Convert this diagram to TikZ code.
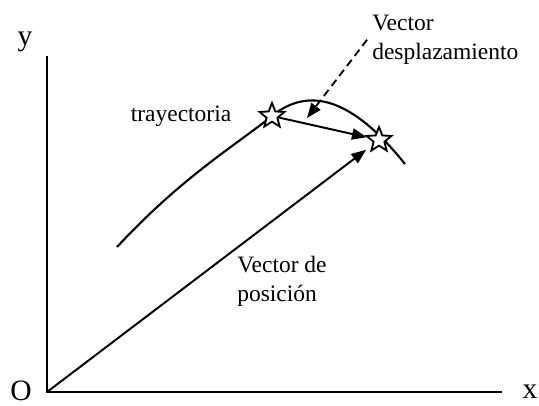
\documentclass[tikz,border=0pt]{standalone}
\usepackage{fontspec}
\setmainfont{Liberation Serif}
\usetikzlibrary{arrows.meta,shapes.geometric}

\begin{document}
\begin{tikzpicture}[x=0.025cm,y=-0.025cm,>={Triangle[length=10.5pt,width=8pt]},
    axlabel/.style={inner sep=0pt,font=\fontsize{21}{25}\selectfont},
    txt/.style={inner sep=0pt,align=left,font=\fontsize{16.7}{20.3}\selectfont},
    starpt/.style={star,star points=5,star point ratio=2.3,draw,fill=white,line width=1.3pt,inner sep=0pt,minimum size=18.5pt}]
  \useasboundingbox (0,0) rectangle (539,406);
  \coordinate (o) at (47,392);
  \coordinate (ytop) at (47,56);
  \coordinate (xend) at (502,392);
  \draw[line width=1.8pt] (ytop) -- (o) -- (xend);
  \node[axlabel] (ylab) at (25,42) {y};
  \node[axlabel] (olab) at (21,391) {O};
  \node[axlabel] (xlab) at (530,392) {x};
  \draw[line width=1.5pt] (117,247) .. controls (182,177) and (236,145) .. (272,116)
    .. controls (309,86) and (352,98) .. (405,164);
  \node[starpt] (p1) at (272,116) {};
  \node[starpt] (p2) at (379,140) {};
  \draw[->,line width=1.4pt] (p1) -- (p2);
  \draw[->,line width=1.4pt,shorten >=5pt] (o) -- (p2);
  \node[txt,anchor=base] (tray) at (181,122) {trayectoria};
  \node[txt,anchor=north west] (dlab) at (372,15) {Vector\\desplazamiento};
  \coordinate (dtip) at (307,118);
  \draw[->,dashed,dash pattern=on 5.5pt off 3.5pt,line width=1.3pt] ([xshift=-3.5pt]dlab.west) -- (dtip);
  \node[txt,anchor=north west] (pos) at (237,256) {Vector de\\posición};
\end{tikzpicture}
\end{document}
